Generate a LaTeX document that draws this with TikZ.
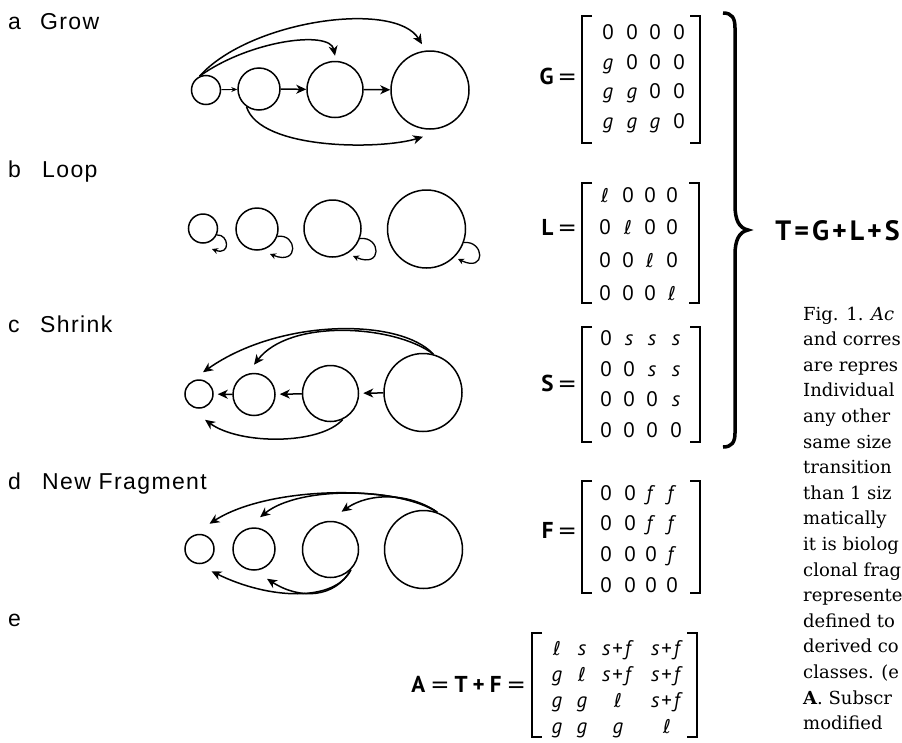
\documentclass[tikz,border=0pt]{standalone}
\usepackage{fontspec}
\setmainfont{Liberation Sans}
\newfontfamily\tagfont[LetterSpace=6]{Liberation Sans}
\newfontfamily\matfont{PT Sans}
\newfontfamily\capfont{DejaVu Serif}
\newfontfamily\symfont{DejaVu Sans}
\usetikzlibrary{arrows.meta}

% matrix entries
\newcommand\vg{\textit{g}}
\newcommand\vs{\textit{s}}
\newcommand\vf{\textit{f}}
\newcommand\vl{{\symfont\fontsize{19}{19}\selectfont ℓ}}
\newcommand\vsf{\textit{s}\hspace{2pt}+\hspace{2pt}\textit{f}}

% 4x4 grid of entries: #1 name, #2 column x list, #3 baseline y list, #4 rows
\newcommand\entrygrid[4]{%
  \foreach \mrow [count=\mr] in {#4} {%
    \foreach \mv [count=\mc] in \mrow {%
      \pgfmathsetmacro\mx{{#2}[\mc-1]}%
      \pgfmathsetmacro\my{{#3}[\mr-1]}%
      \node[entry] (#1-\mr-\mc) at (\mx,\my) {\mv};%
    }%
  }%
}
% square brackets: left x, right x, top y, bottom y
\newcommand\mbrackets[4]{%
  \draw[bracket] ({#1+10},#3) -- (#1,#3) -- (#1,#4) -- ({#1+10},#4);
  \draw[bracket] ({#2-10},#3) -- (#2,#3) -- (#2,#4) -- ({#2-10},#4);
}

\tikzset{
  state/.style={circle, draw, line width=1.5pt, inner sep=0pt, minimum size=#1},
  flow/.style={line width=1.5pt, -{Stealth[length=10pt,width=9pt,inset=3pt]}},
  thinflow/.style={line width=0.9pt, -{Stealth[length=6pt,width=5pt,inset=2pt]}},
  loopflow/.style={line width=1.3pt, -{Stealth[length=6pt,width=6pt,inset=2pt]}},
  tag/.style={anchor=base west, inner sep=0pt, font=\tagfont\fontsize{23}{23}\selectfont},
  entry/.style={anchor=base, inner sep=0pt, font=\matfont\fontsize{21}{21}\selectfont},
  mlabel/.style={anchor=base east, inner sep=0pt, font=\matfont\fontsize{23}{23}\selectfont},
  bracket/.style={line width=1.8pt},
  captext/.style={anchor=base west, inner sep=0pt, font=\capfont\fontsize{18}{18}\selectfont}
}

\begin{document}
\begin{tikzpicture}[x=1pt,y=-1pt]
\useasboundingbox (0,0) rectangle (902,742);

% ---------- a: grow ----------
\node[tag] (ta) at (8,29) {a};
\node[tag] (tgrow) at (40,29) {Grow};
\node[state=29] (a1) at (206,90) {};
\node[state=42] (a2) at (259,89) {};
\node[state=56] (a3) at (335,89.5) {};
\node[state=78] (a4) at (430,90) {};
\draw[thinflow] (a1) -- (a2);
\draw[flow] (a2) -- (a3);
\draw[flow] (a3) -- (a4);
\draw[flow] (a1.115) .. controls (250,40) and (330,30) .. ([yshift=5pt]a3.north);
\draw[flow] (a1.115) .. controls (250,20) and (395,0) .. ([shift={(-8pt,6pt)}]a4.north);
\draw[flow] (a2.-125) .. controls (260,150) and (380,150) .. ([shift={(-7pt,-7pt)}]a4.south);

% ---------- b: loop ----------
\node[tag] (tb) at (8,177) {b};
\node[tag] (tloop) at (42,177) {Loop};
\node[state=29] (b1) at (203,228.5) {};
\node[state=42] (b2) at (257,229) {};
\node[state=57] (b3) at (332.5,228.5) {};
\node[state=78] (b4) at (426.5,229) {};
\coordinate (b1r) at (212,249);
\coordinate (b2r) at (270,254);
\coordinate (b3r) at (353,256);
\coordinate (b4r) at (458,259);
\draw[loopflow] (b1.-25) .. controls (229,234) and (231,256) .. (b1r);
\draw[loopflow] (b2.-20) .. controls (297,233) and (300,266) .. (b2r);
\draw[loopflow] (b3.-20) .. controls (381,236) and (383,269) .. (b3r);
\draw[loopflow] (b4.-20) .. controls (484,240) and (487,273) .. (b4r);

% ---------- c: shrink ----------
\node[tag] (tc) at (8,332) {c};
\node[tag] (tshrink) at (40,332) {Shrink};
\node[state=28] (c1) at (199,394) {};
\node[state=42] (c2) at (254,394.5) {};
\node[state=56] (c3) at (330.5,393.5) {};
\node[state=78] (c4) at (423,392.5) {};
\draw[flow, shorten >=4pt] (c2) -- (c1);
\draw[flow, shorten >=4pt] (c3) -- (c2);
\draw[flow, shorten >=4pt] (c4) -- (c3);
\draw[flow] (c4.75) .. controls (400,318) and (280,318) .. ([shift={(4pt,7pt)}]c1.north);
\draw[flow] (c4.75) .. controls (395,325) and (290,318) .. ([yshift=8pt]c2.north);
\draw[flow] (c3.-65) .. controls (320,445) and (240,445) .. ([shift={(6pt,-11pt)}]c1.south);

% ---------- d: new fragment ----------
\node[tag] (td) at (8,489) {d};
\node[tag] (tfrag) at (42,489) {New Fragment};
\node[state=29] (d1) at (199.5,549) {};
\node[state=42] (d2) at (254,549) {};
\node[state=56] (d3) at (330.5,549.5) {};
\node[state=78] (d4) at (423.5,549.5) {};
\draw[flow] (d4.70) .. controls (400,485) and (270,485) .. ([shift={(10pt,10pt)}]d1.north);
\draw[flow] (d4.70) .. controls (400,488) and (300,485) .. ([shift={(6pt,10pt)}]d2.north);
\draw[flow] (d4.70) .. controls (410,493) and (370,492) .. ([shift={(11pt,9pt)}]d3.north);
\draw[flow] (d3.-45) .. controls (335,602) and (270,600) .. ([shift={(12pt,-7pt)}]d1.south);
\draw[flow] (d3.-45) .. controls (335,598) and (300,600) .. ([shift={(13pt,-8pt)}]d2.south);

% ---------- e ----------
\node[tag] (te) at (8,626) {e};

% ---------- matrices ----------
\node[mlabel] (Glab) at (577,84.5) {\textbf{G}\hspace{4pt}{\symfont =}};
\entrygrid{G}{608,632,655,679}{39,69,98,128}{{0,0,0,0},{\vg,0,0,0},{\vg,\vg,0,0},{\vg,\vg,\vg,0}}
\mbrackets{582}{700}{16}{143}

\node[mlabel] (Llab) at (577,235) {\textbf{L}\hspace{4pt}{\symfont =}};
\entrygrid{L}{605,628,650,672}{202,234,267,300}{{\vl,0,0,0},{0,\vl,0,0},{0,0,\vl,0},{0,0,0,\vl}}
\mbrackets{582}{699}{183}{303}

\node[mlabel] (Slab) at (577,391) {\textbf{S}\hspace{4pt}{\symfont =}};
\entrygrid{S}{606,629,652,676}{345,376,406,437}{{0,\vs,\vs,\vs},{0,0,\vs,\vs},{0,0,0,\vs},{0,0,0,0}}
\mbrackets{582}{700}{327}{442}

\node[mlabel] (Flab) at (577,538) {\textbf{F}\hspace{4pt}{\symfont =}};
\entrygrid{F}{606,630,651,672}{500,530,561,592}{{0,0,\vf,\vf},{0,0,\vf,\vf},{0,0,0,\vf},{0,0,0,0}}
\mbrackets{582}{700}{481}{593}

\node[mlabel] (Alab) at (526,692) {\textbf{A}\hspace{5pt}{\symfont =}\hspace{5pt}\textbf{T}\hspace{5pt}\textbf{+}\hspace{5pt}\textbf{F}\hspace{5pt}{\symfont =}};
\entrygrid{A}{557,582,618,667}{655,681,707,733}{{\vl,\vs,\vsf,\vsf},{\vg,\vl,\vsf,\vsf},{\vg,\vg,\vl,\vsf},{\vg,\vg,\vg,\vl}}
\mbrackets{532}{697}{633}{737}

% ---------- brace and sum ----------
\draw[line width=3.5pt] (723,13) .. controls (732,13) and (735,18) .. (735,28)
  -- (735,205) .. controls (735,220) and (739,228) .. (748,230)
  .. controls (739,232) and (735,240) .. (735,255)
  -- (735,433) .. controls (735,442) and (732,447) .. (723,447);
\node[anchor=base east, inner sep=0pt, font=\matfont\bfseries\fontsize{28}{28}\selectfont] (Tsum) at (900,240) {T\hspace{3pt}=\hspace{3pt}G\hspace{3pt}+\hspace{3pt}L\hspace{3pt}+\hspace{3pt}S};

% ---------- caption column ----------
\foreach \ln [count=\k] in {{Fig. 1. \textit{Ac}},{and corres},{are repres},{Individual},{any other},{same size},{transition},{than 1 siz},{matically},{it is biolog},{clonal frag},{represente},{defined to},{derived co},{classes. (e},{\textbf{A}. Subscr},{modified}}
  \node[captext] (cap\k) at (803,{320+25.6*(\k-1)}) {\ln};
\end{tikzpicture}
\end{document}
